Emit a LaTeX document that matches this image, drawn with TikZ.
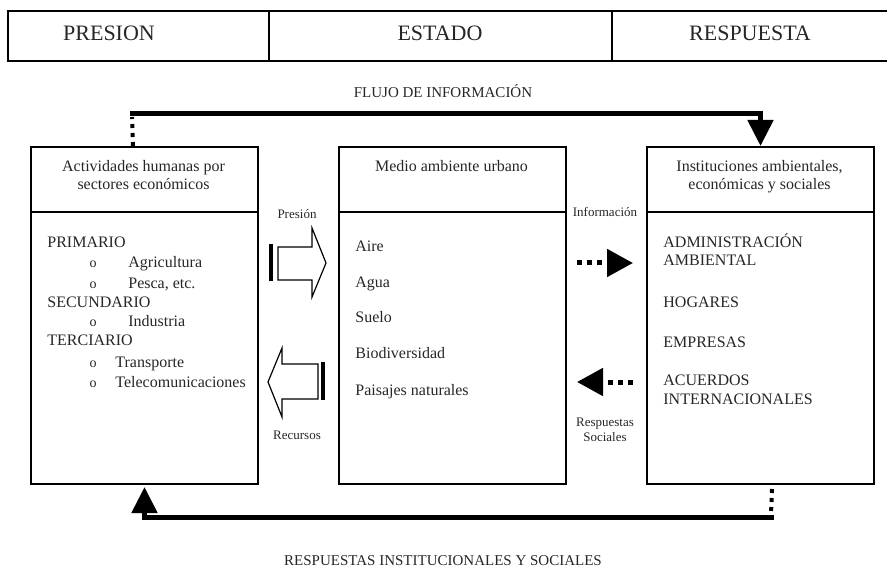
\documentclass[tikz,border=0pt]{standalone}
\usepackage{fontspec}
\setmainfont{Liberation Serif}
\usetikzlibrary{arrows.meta}

\definecolor{inkgray}{gray}{0.15}

\tikzset{
	frame/.style={black, line width=1pt},
	boxnode/.style={draw, frame, inner sep=0pt, anchor=north west, minimum width=113.5pt, minimum height=168.5pt},
	bigtxt/.style={text=inkgray, font=\fontsize{11}{13}\selectfont, anchor=base},
	txt/.style={text=inkgray, font=\fontsize{8}{10}\selectfont, anchor=base west, inner sep=0pt},
	ctxt/.style={text=inkgray, font=\fontsize{8}{10}\selectfont, anchor=base},
	bullet/.style={text=inkgray, font=\fontsize{7}{9}\selectfont, anchor=base},
	smalltxt/.style={text=inkgray, font=\fontsize{6.5}{8}\selectfont, anchor=base},
	flowtxt/.style={text=inkgray, font=\fontsize{7.5}{9}\selectfont, anchor=base},
	flow/.style={line width=2.5pt, line cap=rect, -{Triangle[length=13pt, width=12.5pt]}},
	dotline/.style={line width=2pt, dash pattern=on 2pt off 2.5pt},
	dotarrow/.style={line width=2.5pt, dash pattern=on 2.5pt off 2.5pt, -{Triangle[length=13pt, width=13.5pt]}},
	hollow/.style={line width=0.6pt, fill=white, line join=miter},
}

\begin{document}
\begin{tikzpicture}[x=0.5pt, y=-0.5pt]
			\useasboundingbox (0,0) rectangle (887,571);

			% header row
			\draw[frame] (887,11) -- (8,11) -- (8,61) -- (887,61);
			\draw[frame] (269,11) -- (269,61);
			\draw[frame] (612,11) -- (612,61);
			\node[bigtxt] (hPres) at (109,41) {PRESION};
			\node[bigtxt] (hEst) at (440,41) {ESTADO};
			\node[bigtxt] (hResp) at (750,41) {RESPUESTA};

			% the three boxes
			\node[boxnode] (act) at (30,146) {};
			\node[boxnode] (med) at (338,146) {};
			\node[boxnode] (inst) at (646,146) {};
			\draw[frame] (act.west |- 0,212) -- (act.east |- 0,212);
			\draw[frame] (med.west |- 0,212) -- (med.east |- 0,212);
			\draw[frame] (inst.west |- 0,212) -- (inst.east |- 0,212);

			\node[ctxt] (actH1) at (143.5,172) {Actividades humanas por};
			\node[ctxt] (actH2) at (143.5,190) {sectores económicos};
			\node[ctxt] (medH) at (451.5,172) {Medio ambiente urbano};
			\node[ctxt] (instH1) at (759.5,172) {Instituciones ambientales,};
			\node[ctxt] (instH2) at (759.5,190) {económicas y sociales};

			% sectors
			\node[txt] (prim) at (47,248) {PRIMARIO};
			\node[bullet] (b1) at (93,268) {o};
			\node[txt] (agri) at (128,268) {Agricultura};
			\node[bullet] (b2) at (93,289) {o};
			\node[txt] (pesca) at (128,289) {Pesca, etc.};
			\node[txt] (secu) at (47,307) {SECUNDARIO};
			\node[bullet] (b3) at (93,327) {o};
			\node[txt] (indu) at (128,327) {Industria};
			\node[txt] (terc) at (47,345) {TERCIARIO};
			\node[bullet] (b4) at (93,367) {o};
			\node[txt] (trans) at (115,367) {Transporte};
			\node[bullet] (b5) at (93,387) {o};
			\node[txt] (tele) at (115,387) {Telecomunicaciones};

			% environment
			\node[txt] (aire) at (355,252) {Aire};
			\node[txt] (agua) at (355,287) {Agua};
			\node[txt] (suelo) at (355,322) {Suelo};
			\node[txt] (biod) at (355,358) {Biodiversidad};
			\node[txt] (pais) at (355,395) {Paisajes naturales};

			% institutions
			\node[txt] (admin) at (663,248) {ADMINISTRACIÓN};
			\node[txt] (ambi) at (663,266) {AMBIENTAL};
			\node[txt] (hog) at (663,307) {HOGARES};
			\node[txt] (emp) at (663,347) {EMPRESAS};
			\node[txt] (acu) at (663,385) {ACUERDOS};
			\node[txt] (inter) at (663,404) {INTERNACIONALES};

			% pressure / resources
			\node[smalltxt] (presion) at (297,219) {Presión};
			\node[smalltxt] (recursos) at (297,439) {Recursos};
			\fill (269,244) rectangle (273,281);
			\draw[hollow] (278,247) -- (312,247) -- (312,228) -- (326,263) -- (312,297) -- (312,280) -- (278,280) -- cycle;
			\fill (321,362) rectangle (325,400);
			\draw[hollow] (318,364) -- (282,364) -- (282,348) -- (268,382) -- (282,417) -- (282,399) -- (318,399) -- cycle;

			% information / social answers
			\node[smalltxt] (info) at (605,217) {Información};
			\node[smalltxt] (respS1) at (605,426) {Respuestas};
			\node[smalltxt] (respS2) at (605,441) {Sociales};
			\coordinate (infoA) at (577,263);
			\coordinate (infoB) at (633,263);
			\coordinate (socA) at (633,382);
			\coordinate (socB) at (577,382);
			\draw[dotarrow] (infoA) -- (infoB);
			\draw[dotarrow] (socA) -- (socB);

			% information flow (top)
			\node[flowtxt] (flujo) at (443,98) {FLUJO DE INFORMACIÓN};
			\coordinate (fl) at (132,114);
			\draw[dotline] ([xshift=-5.75pt]act.north) -- (132,117);
			\draw[flow] (fl) -- (inst.north |- fl) -- (inst.north);

			% institutional answers (bottom)
			\node[flowtxt] (respIS) at (443,565) {RESPUESTAS INSTITUCIONALES Y SOCIALES};
			\coordinate (br) at (771,517);
			\draw[dotline] ([xshift=5.75pt, yshift=-2pt]inst.south) -- (771,514);
			\draw[flow] (br) -- (br -| act.south) -- ([yshift=-1pt]act.south);

		\end{tikzpicture}
\end{document}
